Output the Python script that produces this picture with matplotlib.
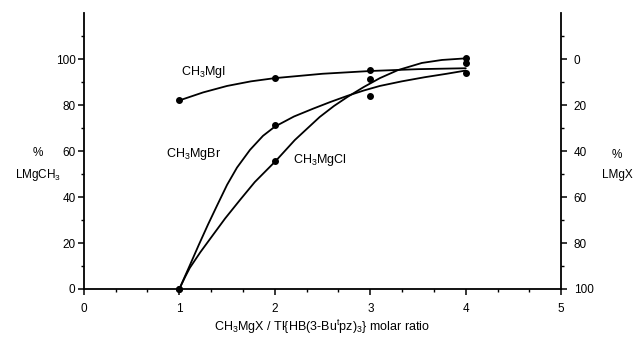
import numpy as np
import matplotlib.pyplot as plt
from matplotlib.ticker import MultipleLocator, FixedLocator

plt.rcParams['font.family'] = ['Liberation Sans', 'DejaVu Sans']
plt.rcParams['mathtext.fontset'] = 'custom'
plt.rcParams['mathtext.rm'] = 'Liberation Sans'
plt.rcParams['mathtext.it'] = 'Liberation Sans:italic'

# measured points (molar ratio, % LMgCH3)
pts_x_mgi = [1, 2, 3, 4]
pts_y_mgi = [82, 91.7, 95.2, 94]
pts_x_mgbr = [1, 2, 3, 4]
pts_y_mgbr = [0, 71.3, 91.3, 98.3]
pts_x_mgcl = [1, 2, 3, 4]
pts_y_mgcl = [0, 55.7, 84, 100.5]

# hand-drawn curves
crv_x_mgi = [1, 1.25, 1.5, 1.75, 2, 2.5, 3, 3.5, 4]
crv_y_mgi = [82, 85.5, 88.3, 90.3, 91.7, 93.6, 94.8, 95.6, 96]
crv_x_mgbr = [1, 1.11, 1.205, 1.3, 1.394, 1.5, 1.604, 1.74, 1.876, 2.0,
              2.2, 2.4, 2.58, 2.76, 2.93, 3.1, 3.33, 3.57, 3.8, 4.0]
crv_y_mgbr = [0, 10.3, 19.3, 28, 36.2, 45.3, 52.8, 60.5, 66.6, 70.6,
              75, 78.4, 81.3, 84, 86.3, 88.3, 90.3, 92.1, 93.6, 95]
crv_x_mgcl = [1, 1.06, 1.11, 1.22, 1.34, 1.48, 1.635, 1.79, 2.01, 2.21, 2.47,
              2.62, 2.76, 2.93, 3.1, 3.29, 3.54, 3.75, 4.0]
crv_y_mgcl = [0, 5.2, 9.2, 16, 22.8, 30.7, 38.7, 46.5, 55.7, 64.8, 74.8,
              79.6, 83.5, 87.8, 91.7, 95.2, 98.3, 99.6, 100.3]

fig = plt.figure(figsize=(6.4, 3.39), dpi=100)
ax = fig.add_axes([0.131, 0.1475, 0.746, 0.814])

for cx, cy in [(crv_x_mgi, crv_y_mgi), (crv_x_mgbr, crv_y_mgbr), (crv_x_mgcl, crv_y_mgcl)]:
    ax.plot(cx, cy, color='black', lw=1.3, solid_capstyle='round', solid_joinstyle='round')
for px, py in [(pts_x_mgi, pts_y_mgi), (pts_x_mgbr, pts_y_mgbr), (pts_x_mgcl, pts_y_mgcl)]:
    ax.plot(px, py, 'o', color='black', ms=4, clip_on=False)

ax.set_xlim(0, 5)
ax.set_ylim(0, 120)
ax.xaxis.set_major_locator(MultipleLocator(1))
ax.xaxis.set_minor_locator(FixedLocator([k / 3 for k in range(16) if k % 3]))
ax.yaxis.set_major_locator(FixedLocator([0, 20, 40, 60, 80, 100]))
ax.yaxis.set_minor_locator(FixedLocator([10, 30, 50, 70, 90, 110]))
ax.spines['top'].set_visible(False)
ax.spines['right'].set_visible(False)
for s in ['left', 'bottom']:
    ax.spines[s].set_linewidth(1.3)
ax.tick_params(which='major', direction='out', length=4, width=1.1, labelsize=8.5, pad=2)
ax.tick_params(axis='x', which='major', pad=6)
ax.tick_params(which='minor', direction='out', length=2.5, width=1)

ax2 = ax.twinx()
ax2.set_ylim(100, -20)
ax2.yaxis.set_major_locator(FixedLocator([0, 20, 40, 60, 80, 100]))
ax2.yaxis.set_minor_locator(FixedLocator([-10, 10, 30, 50, 70, 90]))
for s in ['top', 'left', 'bottom']:
    ax2.spines[s].set_visible(False)
ax2.spines['right'].set_linewidth(1.3)
ax2.tick_params(which='major', direction='out', length=4, width=1.1, labelsize=8.5, pad=5)
ax2.tick_params(which='minor', direction='out', length=2.5, width=1)

ax.text(1.02, 94.3, r'CH$_3$MgI', fontsize=9, va='center', ha='left')
ax.text(0.86, 58.7, r'CH$_3$MgBr', fontsize=9, va='center', ha='left')
ax.text(2.19, 56, r'CH$_3$MgCl', fontsize=9, va='center', ha='left')

fig.text(38 / 640, 1 - 165 / 339, '%\nLMgCH$_3$', fontsize=8.5, ha='center', va='center',
         linespacing=1.8)
fig.text(617 / 640, 1 - 165 / 339, '%\nLMgX', fontsize=8.5, ha='center', va='center',
         linespacing=1.8)
fig.text(322 / 640, 1 - 327 / 339, r'CH$_3$MgX / Tl{HB(3-Bu$^{\rm t}$pz)$_3$} molar ratio',
         fontsize=9, ha='center', va='center')

fig.savefig('out.png', dpi=100)
